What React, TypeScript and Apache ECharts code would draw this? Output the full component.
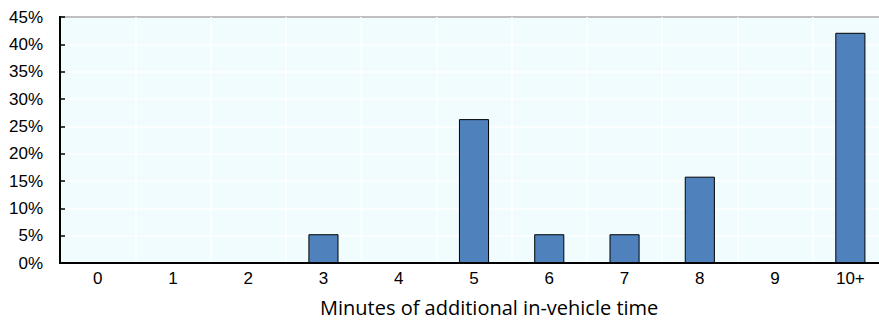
import React, { useEffect, useRef } from "react";
import * as echarts from "echarts";

const categories = ["0", "1", "2", "3", "4", "5", "6", "7", "8", "9", "10+"];
const shares = [0, 0, 0, 5.26, 0, 26.32, 5.26, 5.26, 15.79, 0, 42.11];
const axisTitle = "Minutes of additional in-vehicle time";

export default function App() {
  const ref = useRef<HTMLDivElement>(null);
  useEffect(() => {
    document.body.style.margin = "0";
    const chart = echarts.init(ref.current!, null, { renderer: "svg" });
    chart.setOption({
      animation: false,
      textStyle: { fontFamily: "'Liberation Sans', Arial, sans-serif" },
      grid: {
        left: 60,
        right: 12,
        top: 17,
        bottom: 61,
        show: true,
        backgroundColor: "#f0fcfd",
        borderColor: "#000",
        borderWidth: 2,
      },
      graphic: [
        {
          type: "text",
          left: 320,
          top: 297,
          style: {
            text: axisTitle,
            fontSize: 20,
            fontFamily: "'Open Sans', sans-serif",
            fill: "#000",
          },
        },
      ],
      xAxis: {
        type: "category",
        data: categories,
        axisLine: { lineStyle: { color: "#000", width: 2 } },
        axisTick: { inside: true, length: 5, lineStyle: { color: "#000", width: 1.5 } },
        axisLabel: { fontSize: 17, color: "#000", margin: 7, fontFamily: "'Liberation Sans', Arial, sans-serif" },
        splitLine: { show: true, lineStyle: { color: "#ffffff", width: 1.5 } },
      },
      yAxis: {
        type: "value",
        min: 0,
        max: 45,
        interval: 5,
        axisLine: { show: true, lineStyle: { color: "#000", width: 2 } },
        axisTick: { show: true, inside: true, length: 5, lineStyle: { color: "#000", width: 1.5 } },
        axisLabel: { fontSize: 17, color: "#000", margin: 17, formatter: "{value}%", fontFamily: "'Liberation Sans', Arial, sans-serif" },
        splitLine: { show: true, lineStyle: { color: "#ffffff", width: 1.5 } },
      },
      series: [
        {
          type: "bar",
          data: shares,
          barWidth: "40%",
          itemStyle: { color: "#4f81bd", borderColor: "#000", borderWidth: 1 },
        },
      ],
    });
    return () => chart.dispose();
  }, []);
  return (
    <div style={{ width: 879, height: 324, overflow: "hidden", position: "relative" }}>
      <div ref={ref} style={{ width: 900, height: 324 }} />
    </div>
  );
}
